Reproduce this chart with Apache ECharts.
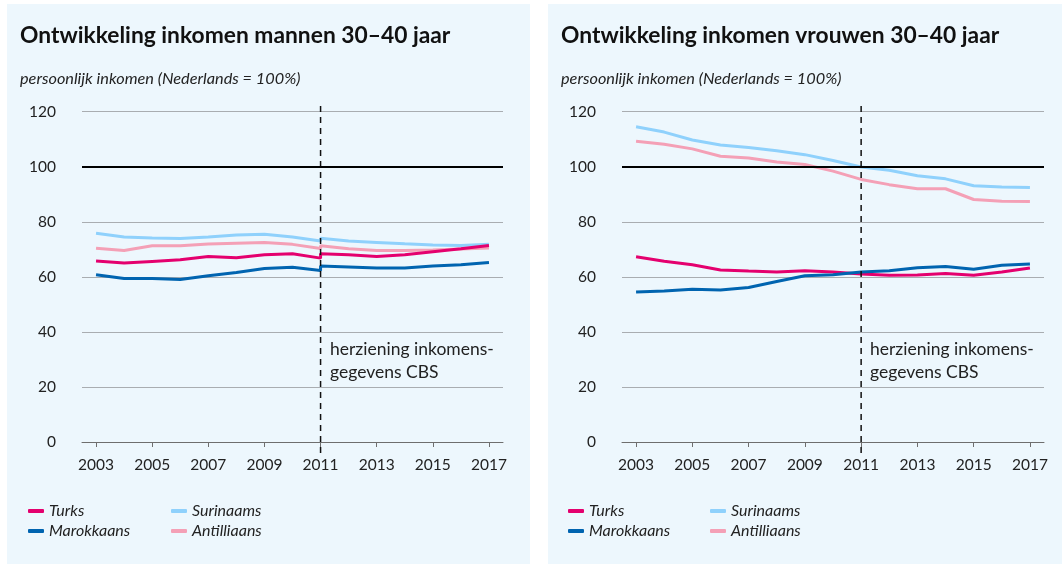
<!DOCTYPE html>
<html>
<head>
<meta charset="utf-8">
<script src="https://cdn.jsdelivr.net/npm/echarts@6/dist/echarts.min.js"></script>
<style>
    html, body {margin: 0; padding: 0; background: #ffffff;}
    #chart {width: 1062px; height: 564px;}
</style>
</head>
<body>
<div id="chart"></div>
<script>
// jaren
var jaren = [2003, 2004, 2005, 2006, 2007, 2008, 2009, 2010, 2011, 2012, 2013, 2014, 2015, 2016, 2017];
var jarenOud = [2003, 2004, 2005, 2006, 2007, 2008, 2009, 2010, 2011];
var jarenNieuw = [2011, 2012, 2013, 2014, 2015, 2016, 2017];
var jaarLabels = [2003, 2005, 2007, 2009, 2011, 2013, 2015, 2017];

// mannen 30-40 jaar (oude en herziene reeks, breuk in 2011)
var mannenTurksOud = [65.8, 65.0, 65.6, 66.2, 67.4, 66.9, 68.0, 68.4, 66.8];
var mannenTurksNieuw = [68.4, 68.0, 67.4, 68.0, 69.1, 70.2, 71.4];
var mannenMarokkaansOud = [60.8, 59.4, 59.4, 59.0, 60.4, 61.6, 63.0, 63.5, 62.3];
var mannenMarokkaansNieuw = [63.9, 63.6, 63.2, 63.2, 63.9, 64.4, 65.2];
var mannenSurinaamsOud = [75.8, 74.5, 74.1, 73.9, 74.5, 75.2, 75.5, 74.5, 73.0];
var mannenSurinaamsNieuw = [74.0, 73.0, 72.5, 72.0, 71.6, 71.4, 71.8];
var mannenAntilliaansOud = [70.4, 69.6, 71.3, 71.3, 71.9, 72.2, 72.5, 71.8, 70.3];
var mannenAntilliaansNieuw = [71.3, 70.2, 69.6, 69.6, 69.8, 70.1, 70.5];

// vrouwen 30-40 jaar
var vrouwenTurks = [67.3, 65.7, 64.4, 62.5, 62.1, 61.8, 62.2, 61.8, 61.0, 60.6, 60.7, 61.2, 60.6, 61.8, 63.2];
var vrouwenMarokkaans = [54.5, 54.9, 55.5, 55.2, 56.1, 58.3, 60.4, 60.8, 61.8, 62.2, 63.3, 63.8, 62.8, 64.2, 64.7];
var vrouwenSurinaams = [114.5, 112.6, 109.7, 107.9, 107.0, 105.8, 104.4, 102.3, 99.9, 98.7, 96.7, 95.6, 93.1, 92.6, 92.5];
var vrouwenAntilliaans = [109.3, 108.2, 106.5, 103.8, 103.2, 101.7, 100.8, 98.4, 95.4, 93.5, 92.0, 92.0, 88.1, 87.5, 87.4];

var kleuren = {
    Turks: '#e4006e',
    Marokkaans: '#0064b0',
    Surinaams: '#8fd1fc',
    Antilliaans: '#f4a0b6'
};
var font = 'Lato';
var tekstKleur = '#222222';

var paren = function (x, y) {
    return y.map(function (v, i) { return [x[i], v]; });
};

var lijn = function (naam, data, idx) {
    return {
        name: naam,
        type: 'line',
        xAxisIndex: idx,
        yAxisIndex: idx,
        data: data,
        symbol: 'none',
        smooth: false,
        z: 3,
        color: kleuren[naam],
        lineStyle: {color: kleuren[naam], width: 3},
        itemStyle: {color: kleuren[naam]}
    };
};

var hulplijnen = function (idx) {
    return {
        name: 'herziening',
        type: 'line',
        xAxisIndex: idx,
        yAxisIndex: idx,
        data: [[2011, -4], [2011, 123.6]],
        symbol: 'none',
        clip: false,
        silent: true,
        z: 4,
        lineStyle: {color: '#111111', width: 1.5, type: [6, 5]},
        markLine: {
            symbol: 'none',
            silent: true,
            label: {show: false},
            lineStyle: {color: '#000000', width: 2, type: 'solid'},
            data: [{yAxis: 100}]
        }
    };
};

var xAs = function (idx) {
    return {
        type: 'value',
        gridIndex: idx,
        min: 2002.5,
        max: 2017.5,
        splitLine: {show: false},
        axisLine: {lineStyle: {color: '#6e6e6e', width: 1}},
        axisTick: {show: true, length: 5, lineStyle: {color: '#6e6e6e'}, customValues: jaarLabels},
        axisLabel: {
            customValues: jaarLabels,
            margin: 15,
            color: tekstKleur,
            fontSize: 15.5,
            fontFamily: font,
            formatter: function (v) { return String(v); }
        }
    };
};

var yAs = function (idx) {
    return {
        type: 'value',
        gridIndex: idx,
        min: 0,
        max: 120,
        interval: 20,
        axisLine: {show: false},
        axisTick: {show: false},
        splitLine: {lineStyle: {color: '#a9adb1', width: 1}},
        axisLabel: {margin: 26, color: tekstKleur, fontSize: 15.5, fontFamily: font}
    };
};

var legenda = function (left, namen) {
    return {
        orient: 'vertical',
        left: left,
        top: 498,
        itemGap: 4,
        itemWidth: 16,
        itemHeight: 4,
        icon: 'roundRect',
        selectedMode: false,
        data: namen,
        textStyle: {color: tekstKleur, fontSize: 16, fontStyle: 'italic', fontFamily: font}
    };
};

var titel = function (left, top, tekst, sub) {
    return {
        text: tekst,
        left: left,
        top: top,
        padding: 0,
        textStyle: sub
            ? {color: tekstKleur, fontSize: 16.3, fontStyle: 'italic', fontWeight: 'normal', fontFamily: font}
            : {color: '#111111', fontSize: 22.8, fontWeight: 'bold', fontFamily: font}
    };
};

var opmerking = function (left) {
    return {
        type: 'text',
        left: left,
        top: 338,
        silent: true,
        style: {
            text: 'herziening inkomens-\ngegevens CBS',
            fill: tekstKleur,
            font: '17.5px Lato',
            lineHeight: 23
        }
    };
};

var myChart = echarts.init(document.getElementById('chart'));
var option = {
    backgroundColor: '#ffffff',
    animation: false,
    graphic: [
        {type: 'rect', shape: {x: 7, y: 4, width: 523, height: 560}, style: {fill: '#edf7fd'}, z: -10, silent: true},
        {type: 'rect', shape: {x: 548, y: 4, width: 514, height: 560}, style: {fill: '#edf7fd'}, z: -10, silent: true},
        opmerking(330),
        opmerking(870)
    ],
    title: [
        titel(20, 24, 'Ontwikkeling inkomen mannen 30–40 jaar', false),
        titel(561, 24, 'Ontwikkeling inkomen vrouwen 30–40 jaar', false),
        titel(20, 71, 'persoonlijk inkomen (Nederlands = 100%)', true),
        titel(561, 71, 'persoonlijk inkomen (Nederlands = 100%)', true)
    ],
    legend: [
        legenda(23, ['Turks', 'Marokkaans']),
        legenda(166, ['Surinaams', 'Antilliaans']),
        legenda(563, ['Turks', 'Marokkaans']),
        legenda(705, ['Surinaams', 'Antilliaans'])
    ],
    grid: [
        {left: 82, top: 111.7, width: 421, height: 330.3},
        {left: 622, top: 111.7, width: 422, height: 330.3}
    ],
    xAxis: [xAs(0), xAs(1)],
    yAxis: [yAs(0), yAs(1)],
    series: [
        hulplijnen(0),
        hulplijnen(1),
        lijn('Surinaams', paren(jarenOud, mannenSurinaamsOud).concat(paren(jarenNieuw, mannenSurinaamsNieuw)), 0),
        lijn('Antilliaans', paren(jarenOud, mannenAntilliaansOud).concat(paren(jarenNieuw, mannenAntilliaansNieuw)), 0),
        lijn('Turks', paren(jarenOud, mannenTurksOud).concat(paren(jarenNieuw, mannenTurksNieuw)), 0),
        lijn('Marokkaans', paren(jarenOud, mannenMarokkaansOud).concat(paren(jarenNieuw, mannenMarokkaansNieuw)), 0),
        lijn('Surinaams', paren(jaren, vrouwenSurinaams), 1),
        lijn('Antilliaans', paren(jaren, vrouwenAntilliaans), 1),
        lijn('Turks', paren(jaren, vrouwenTurks), 1),
        lijn('Marokkaans', paren(jaren, vrouwenMarokkaans), 1)
    ]
};
myChart.setOption(option);
</script>
</body>
</html>
